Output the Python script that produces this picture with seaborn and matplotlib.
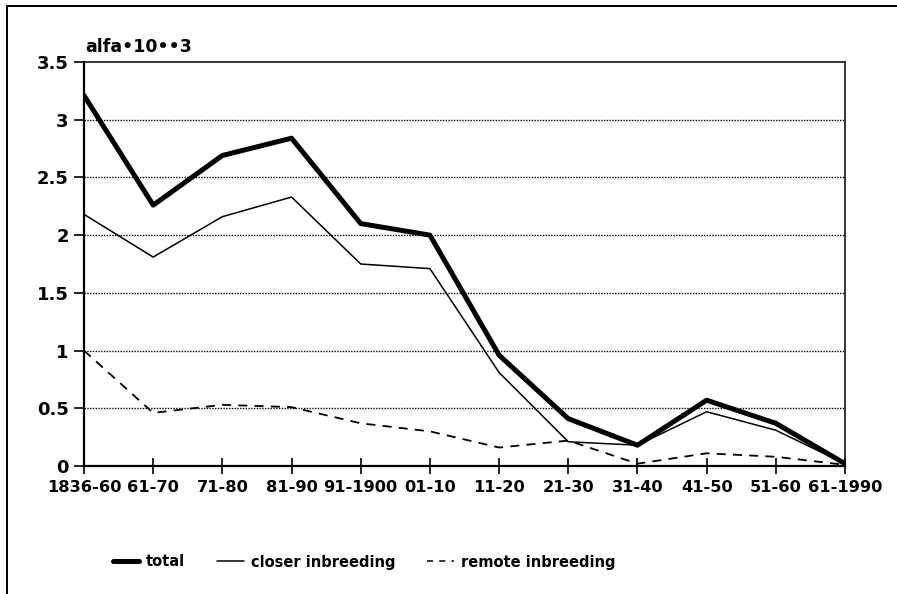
import matplotlib
matplotlib.use("Agg")
import matplotlib.pyplot as plt
import seaborn as sns
import pandas as pd
from matplotlib.lines import Line2D

periods = ["1836-60", "61-70", "71-80", "81-90", "91-1900", "01-10",
           "11-20", "21-30", "31-40", "41-50", "51-60", "61-1990"]
total = [3.21, 2.26, 2.69, 2.84, 2.10, 2.00, 0.96, 0.41, 0.18, 0.57, 0.37, 0.02]
closer = [2.18, 1.81, 2.16, 2.33, 1.75, 1.71, 0.81, 0.21, 0.18, 0.47, 0.31, 0.02]
remote = [1.00, 0.46, 0.53, 0.51, 0.37, 0.30, 0.16, 0.22, 0.02, 0.11, 0.08, 0.01]
yticks = [0, 0.5, 1, 1.5, 2, 2.5, 3, 3.5]
ytick_labels = ["0", "0.5", "1", "1.5", "2", "2.5", "3", "3.5"]

sns.set_style("white")
plt.rcParams["font.family"] = ["DejaVu Sans"]
plt.rcParams["font.weight"] = "bold"
plt.rcParams["text.color"] = "black"
plt.rcParams["axes.labelcolor"] = "black"
plt.rcParams["xtick.color"] = "black"
plt.rcParams["ytick.color"] = "black"

fig = plt.figure(figsize=(8.97, 5.94), dpi=100)
ax = fig.add_axes([84 / 897, 1 - 466 / 594, (845 - 84) / 897, (466 - 62) / 594])

df = pd.DataFrame({"period": periods, "total": total,
                   "closer": closer, "remote": remote})
df["x"] = range(len(periods))

sns.lineplot(data=df, x="x", y="total", ax=ax, color="black", lw=3.6,
             label="total")
sns.lineplot(data=df, x="x", y="closer", ax=ax, color="black", lw=1.1,
             label="closer inbreeding")
sns.lineplot(data=df, x="x", y="remote", ax=ax, color="black", lw=1.3,
             label="remote inbreeding")
ax.lines[2].set_dashes([5, 4])

ax.set_xlim(0, len(periods) - 1)
ax.set_ylim(0, 3.5)
ax.set_xticks(range(len(periods)))
ax.set_xticklabels(periods, fontsize=11.7, fontweight="bold", color="black")
ax.set_yticks(yticks)
ax.set_yticklabels(ytick_labels, fontsize=13, fontweight="bold", color="black")
ax.set_xlabel("")
ax.set_ylabel("")

for y in yticks[1:-1]:
    ax.axhline(y, color="black", lw=1.0, ls=(0, (1, 1)), zorder=0)

for s in ["left", "bottom"]:
    ax.spines[s].set_linewidth(1.6)
    ax.spines[s].set_color("black")
for s in ["top", "right"]:
    ax.spines[s].set_linewidth(1.1)
    ax.spines[s].set_color("black")
    ax.spines[s].set_visible(True)

ax.tick_params(axis="x", direction="inout", length=12, width=1.2,
               colors="black", pad=4, bottom=True)
ax.tick_params(axis="y", direction="out", length=7, width=1.2,
               colors="black", pad=4, left=True)

fig.text(85 / 897, 1 - 52 / 594, "alfa\u202210\u2022\u20223", fontsize=12.5,
         fontweight="bold", ha="left", va="baseline", color="black")

handles = [Line2D([], [], color="black", lw=3.6),
           Line2D([], [], color="black", lw=1.1),
           Line2D([], [], color="black", lw=1.1, dashes=[4, 4])]
leg = fig.legend(handles, ["total", "closer inbreeding", "remote inbreeding"],
                 loc="center", bbox_to_anchor=(364 / 897, 1 - 562 / 594),
                 ncol=3, frameon=False, handlelength=1.8,
                 columnspacing=2.2, handletextpad=0.5,
                 prop={"weight": "bold", "size": 10.5})
for t in leg.get_texts():
    t.set_color("black")
ax.get_legend().remove()

fig.add_artist(Line2D([7 / 897, 7 / 897], [0, 1 - 6 / 594],
                      transform=fig.transFigure, color="black", lw=1.4))
fig.add_artist(Line2D([7 / 897, 1], [1 - 6 / 594, 1 - 6 / 594],
                      transform=fig.transFigure, color="black", lw=1.4))

fig.savefig("out.png", dpi=100)
